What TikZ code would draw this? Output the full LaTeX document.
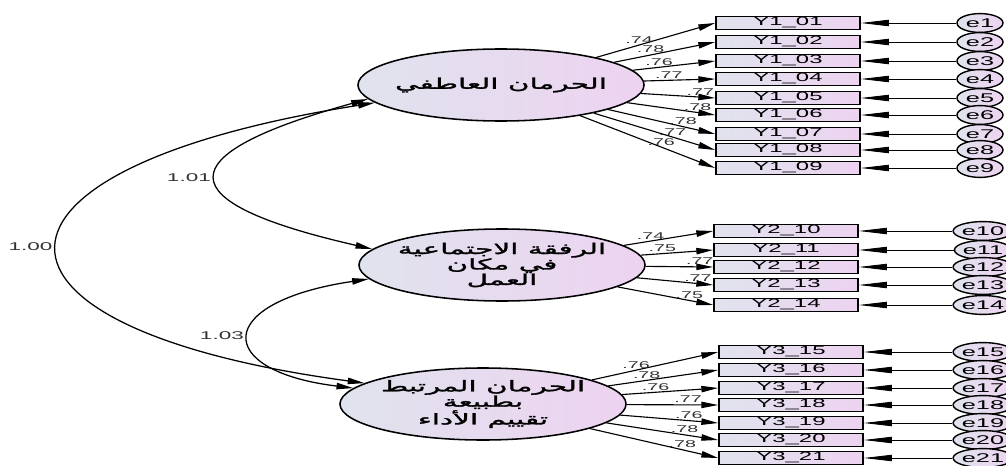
\documentclass[tikz,border=0pt]{standalone}
\usepackage{fontspec}
\TeXXeTstate=1
\newfontfamily\amosfont[FakeStretch=2]{Liberation Sans}
\newfontfamily\arabicfont[Script=Arabic,FakeStretch=2,FakeBold=2]{DejaVu Sans}
\usetikzlibrary{positioning, arrows.meta, shapes.geometric}
\definecolor{lvleft}{HTML}{E0E3EE}
\definecolor{lvright}{HTML}{EDD3F0}
\tikzset{latent/.style={ellipse, draw, line width=1.1pt, left color=lvleft, right color=lvright, minimum width=7.15cm, minimum height=1.8cm, inner xsep=-0.6cm, inner ysep=-0.3cm, align=center, font=\arabicfont\fontsize{10.5}{11}\selectfont}}
\tikzset{obsbox/.style={draw, line width=1.1pt, left color=lvleft, right color=lvright, minimum width=3.6cm, minimum height=0.33cm, inner sep=0pt, font=\amosfont\fontsize{8.5}{9}\selectfont}}
\tikzset{errnode/.style={ellipse, draw, line width=1pt, left color=lvleft, right color=lvright, minimum width=1.15cm, minimum height=0.47cm, inner sep=0pt, font=\amosfont\fontsize{9}{9}\selectfont}}
\tikzset{coef/.style={font=\amosfont\fontsize{7}{7}\selectfont, inner sep=1pt, text=black!80}}
\tikzset{load/.style={draw, -{Triangle[length=12pt,width=4.5pt]}, line width=0.8pt}}
\tikzset{errarr/.style={draw, -{Triangle[length=20pt,width=4.5pt]}, line width=0.6pt}}
\tikzset{covarr/.style={draw, {Triangle[length=12pt,width=4.5pt]}-{Triangle[length=12pt,width=4.5pt]}, line width=0.9pt}}

\begin{document}
\begin{tikzpicture}[x=0.025cm, y=-0.025cm]
	\path[use as bounding box, fill=white] (0,0) rectangle (1006,466);
	% latent factors
	\node[latent] (F1) at (501,85) {\beginR الحرمان العاطفي\endR};
	\node[latent] (F2) at (502,265) {\beginR الرفقة الاجتماعية\endR\\ \beginR في مكان\endR\\ \beginR العمل\endR};
	\node[latent] (F3) at (483,404) {\beginR الحرمان المرتبط\endR\\ \beginR بطبيعة\endR\\ \beginR تقييم الأداء\endR};
	%
	\foreach \n/\lab/\y/\ld/\ps in {1/01/23/.74/0.36, 2/02/42/.78/0.36, 3/03/61/.76/0.32, 4/04/79/.77/0.35, 5/05/98/.77/0.8, 6/06/115/.78/0.8, 7/07/134/.78/0.7, 8/08/150/.77/0.65, 9/09/168/.76/0.6}{
		\node[obsbox] (v\n) at (788,\y) {Y1\_\lab};
		\node[errnode] (e\n) at (980,\y) {e\n};
		\draw[load] (F1) -- (v\n.west) node[pos=\ps, above, coef]{\ld};
		\draw[errarr] (e\n) -- (v\n.east);
	}
	\foreach \n/\y/\ld/\ps in {10/231/.74/0.3, 11/250/.75/0.3, 12/267/.77/0.8, 13/285/.77/0.8, 14/305/.75/0.75}{
		\node[obsbox] (v\n) at (786,\y) {Y2\_\n};
		\node[errnode] (e\n) at (983,\y) {e\n};
		\draw[load] (F2) -- (v\n.west) node[pos=\ps, above, coef]{\ld};
		\draw[errarr] (e\n) -- (v\n.east);
	}
	\foreach \n/\y/\ld/\ps in {15/352/.76/0.35, 16/370/.78/0.35, 17/388/.76/0.35, 18/405/.77/0.67, 19/423/.76/0.7, 20/440/.78/0.7, 21/458/.78/0.72}{
		\node[obsbox] (v\n) at (791,\y) {Y3\_\n};
		\node[errnode] (e\n) at (983,\y) {e\n};
		\draw[load] (F3) -- (v\n.west) node[pos=\ps, above, coef]{\ld};
		\draw[errarr] (e\n) -- (v\n.east);
	}
	% covariances
	\draw[covarr] (F1.188) .. controls (-45,169) and (-45,328) .. (F3.170) node[pos=0.5, left=3pt, coef, font=\amosfont\fontsize{8}{8}\selectfont]{1.00};
	\draw[covarr] (F1.186) .. controls (166,155) and (166,202) .. (F2.173) node[pos=0.5, left=3pt, coef, font=\amosfont\fontsize{8}{8}\selectfont]{1.01};
	\draw[covarr] (F2.186) .. controls (213,302) and (213,371) .. (F3.173) node[pos=0.5, left=3pt, coef, font=\amosfont\fontsize{8}{8}\selectfont]{1.03};
\end{tikzpicture}
\end{document}
